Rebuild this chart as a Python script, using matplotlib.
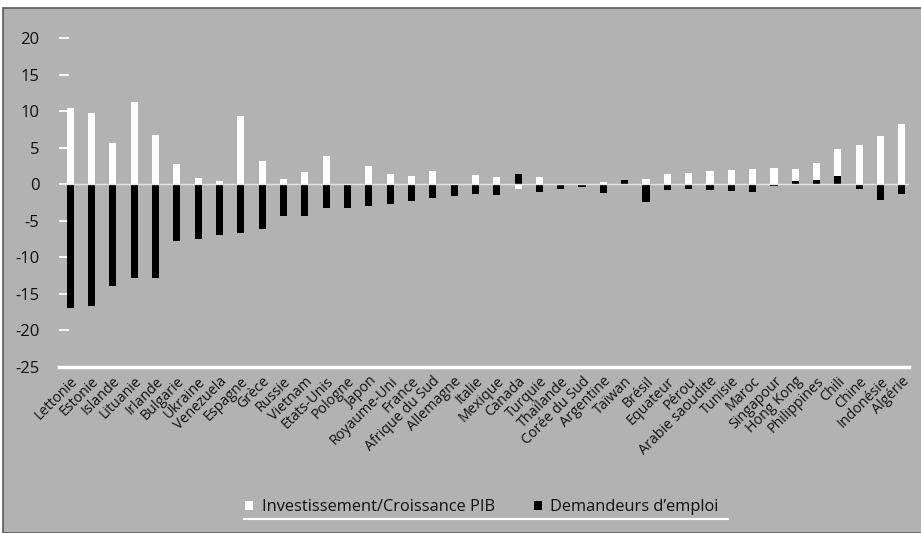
import matplotlib
matplotlib.use("Agg")
import matplotlib.pyplot as plt
from matplotlib.patches import Rectangle, Patch
from matplotlib.lines import Line2D
import numpy as np

plt.rcParams['font.family'] = ['Open Sans', 'DejaVu Sans']

categories = ["Lettonie", "Estonie", "Islande", "Lituanie", "Irlande", "Bulgarie", "Ukraine",
              "Venezuela", "Espagne", "Grèce", "Russie", "Vietnam", "Etats-Unis", "Pologne",
              "Japon", "Royaume-Uni", "France", "Afrique du Sud", "Allemagne", "Italie",
              "Mexique", "Canada", "Turquie", "Thaïlande", "Corée du Sud", "Argentine",
              "Taïwan", "Brésil", "Equateur", "Pérou", "Arabie saoudite", "Tunisie", "Maroc",
              "Singapour", "Hong Kong", "Philippines", "Chili", "Chine", "Indonésie", "Algérie"]

investissement = [10.4, 9.8, 5.7, 11.3, 6.7, 2.7, 0.85, 0.45, 9.3, 3.2, 0.75, 1.7, 3.9, 0.0,
                  2.5, 1.45, 1.1, 1.8, 0.0, 1.25, 1.05, -0.7, 1.0, 0.0, 0.0, 0.3, 0.0, 0.7,
                  1.35, 1.6, 1.8, 1.95, 2.15, 2.25, 2.15, 2.95, 4.8, 5.35, 6.6, 8.25]

demandeurs = [-16.9, -16.6, -13.9, -12.8, -12.8, -7.8, -7.5, -7.0, -6.65, -6.15, -4.4, -4.35,
              -3.3, -3.3, -2.95, -2.65, -2.35, -1.85, -1.6, -1.3, -1.5, 1.4, -1.0, -0.65,
              -0.4, -1.2, 0.55, -2.5, -0.85, -0.7, -0.85, -0.9, -1.05, -0.2, 0.4, 0.55,
              1.15, -0.6, -2.2, -1.4]

yticks = [-25, -20, -15, -10, -5, 0, 5, 10, 15, 20]
legend_labels = ["Investissement/Croissance PIB", "Demandeurs d\u2019emploi"]

W, H = 921, 533
fig = plt.figure(figsize=(W / 100, H / 100), dpi=100)
fig.patch.set_facecolor('white')

gray = '#b2b2b2'
frame = Rectangle((3 / W, 0), 1.0, 1 - 8 / H, transform=fig.transFigure,
                  facecolor=gray, edgecolor='#5a5a5a', linewidth=1.2, zorder=-10)
fig.patches.append(frame)

ax = fig.add_axes([59 / W, 1 - 367 / H, (909 - 59) / W, (367 - 38) / H])
ax.set_facecolor('none')
ax.set_zorder(1)

x = np.arange(len(categories))
bw = 0.33
ax.bar(x, investissement, width=bw, color='white', edgecolor='none', zorder=2)
ax.bar(x, demandeurs, width=bw, color='black', edgecolor='none', zorder=3)
ax.axhline(0, color='#e6e6e6', linewidth=1.0, zorder=4, xmin=3 / 850)

ax.set_xlim(-0.52, 39.33)
ax.set_ylim(-25, 20)
ax.set_yticks(yticks)
ax.set_yticklabels([str(v) for v in yticks], fontsize=12, color='#111111')
ax.tick_params(axis='y', direction='in', length=7, width=1.3, color='white', pad=14)

ax.set_xticks(x)
ax.set_xticklabels(categories, rotation=45, ha='right', rotation_mode='anchor',
                   fontsize=10.3, color='#111111')
ax.tick_params(axis='x', length=0, pad=5)

for s in ['top', 'right', 'left']:
    ax.spines[s].set_visible(False)
ax.spines['bottom'].set_color('white')
ax.spines['bottom'].set_linewidth(2.5)

handles = [Patch(facecolor='white', edgecolor='none'), Patch(facecolor='black', edgecolor='none')]
leg = fig.legend(handles, legend_labels, loc='center', bbox_to_anchor=(482 / W, 1 - 507 / H),
                 ncol=2, frameon=False, fontsize=11.8, handlelength=0.5, handleheight=0.5,
                 handletextpad=0.5, columnspacing=2.4)
leg.set_zorder(2)
for t in leg.get_texts():
    t.set_color('#111111')

fig.lines.append(Line2D([244 / W, 728 / W], [1 - 519 / H, 1 - 519 / H], transform=fig.transFigure,
                        color='white', linewidth=1.5, zorder=2))

fig.savefig('out.png', dpi=100, facecolor=fig.get_facecolor())
